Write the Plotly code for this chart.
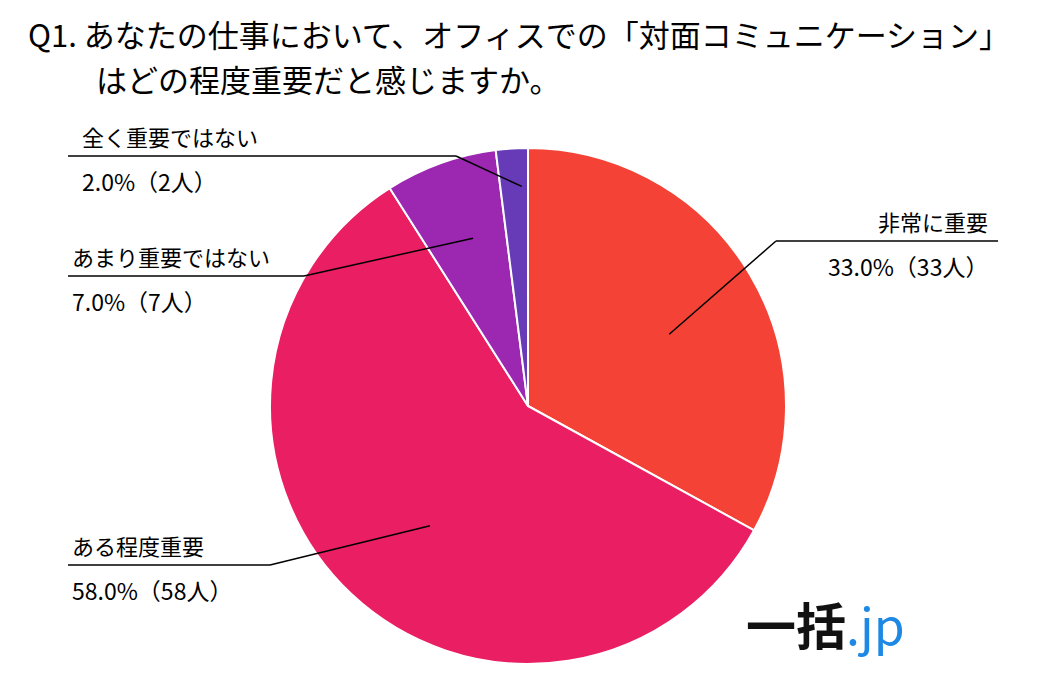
import math
import plotly.graph_objects as go

labels = ["非常に重要", "ある程度重要", "あまり重要ではない", "全く重要ではない"]
values = [33, 58, 7, 2]
counts = ["33人", "58人", "7人", "2人"]
colors = ["#F44336", "#E91E63", "#9C27B0", "#673AB7"]

W, H = 1059, 675
cx, cy, R = 528, 405, 258
FONT = "Noto Sans CJK JP"

def px(x, y):
    return x / W, 1 - y / H

dx, dy = -8, -7
fig = go.Figure(go.Pie(
    labels=labels, values=values, sort=False, direction="clockwise", rotation=0,
    marker=dict(colors=colors, line=dict(color="white", width=2)),
    textinfo="none", hoverinfo="none", showlegend=False,
    domain=dict(x=[(cx + dx - R) / W, (cx + dx + R) / W], y=[1 - (cy + dy + R) / H, 1 - (cy + dy - R) / H]),
))

layout_pos = [
    (768, 233, 990, 982, "right", 0.6),
    (262, 557, 60, 62, "left", 0.6),
    (296, 268, 60, 62, "left", 0.72),
    (448, 148, 60, 72, "left", 0.88),
]
total = sum(values)
cum = 0
shapes, ann = [], []
for i, v in enumerate(values):
    mid = (cum + v / 2) / total * 2 * math.pi
    cum += v
    ex, ey, endx, tx, anc, fr = layout_pos[i]
    ix = cx + math.sin(mid) * R * fr
    iy = cy - math.cos(mid) * R * fr
    pts = [(ix, iy), (ex, ey), (endx, ey)]
    for (a, b), (c, d) in zip(pts[:-1], pts[1:]):
        x0, y0 = px(a, b); x1, y1 = px(c, d)
        shapes.append(dict(type="line", xref="paper", yref="paper", x0=x0, y0=y0, x1=x1, y1=y1,
                           line=dict(color="black", width=1.5)))
    x, y = px(tx, ey - 20)
    ann.append(dict(x=x, y=y, xref="paper", yref="paper", text=labels[i], showarrow=False,
                    xanchor=anc, yanchor="middle", font=dict(size=22, color="black", family=FONT)))
    x, y = px(tx, ey + 25)
    ann.append(dict(x=x, y=y, xref="paper", yref="paper", text=f"{v:.1f}%（{counts[i]}）", showarrow=False,
                    xanchor=anc, yanchor="middle", font=dict(size=23, color="black", family=FONT)))

x, y = px(18, 26)
ann.append(dict(x=x, y=y, xref="paper", yref="paper", showarrow=False, xanchor="left", yanchor="middle",
                text="Q1. あなたの仕事において、オフィスでの「対面コミュニケーション」",
                font=dict(size=31, color="black", family=FONT)))
x, y = px(86, 71)
ann.append(dict(x=x, y=y, xref="paper", yref="paper", showarrow=False, xanchor="left", yanchor="middle",
                text="はどの程度重要だと感じますか。", font=dict(size=31, color="black", family=FONT)))
x, y = px(736, 615)
ann.append(dict(x=x, y=y, xref="paper", yref="paper", showarrow=False, xanchor="left", yanchor="middle",
                text="<b>一括</b><span style='color:#1E88E5'>.jp</span>",
                font=dict(size=50, color="#111111", family=FONT)))

fig.update_layout(width=W, height=H, margin=dict(l=0, r=0, t=0, b=0),
                  paper_bgcolor="white", plot_bgcolor="white", shapes=shapes, annotations=ann)
fig.write_html("out.html")
